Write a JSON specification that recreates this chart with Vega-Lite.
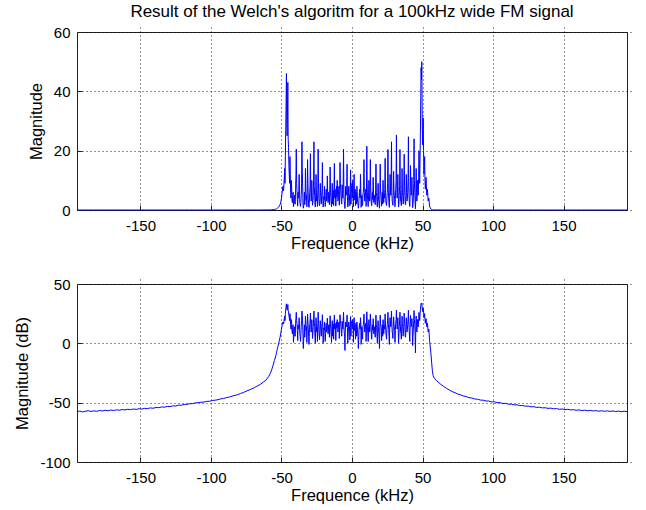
{
"$schema": "https://vega.github.io/schema/vega-lite/v6.json",
"background": "white",
"padding": {"left": 14, "top": 2, "right": 5, "bottom": 5},
"spacing": 24,
"config": {
  "font": "Liberation Sans",
  "view": {"stroke": "#222", "strokeWidth": 1},
  "axis": {"grid": true, "gridColor": "#000", "gridDash": [1, 3], "gridOpacity": 0.85, "domain": false, "ticks": true, "tickSize": 5, "offset": -5, "tickColor": "#222", "labelFontSize": 15, "titleFontSize": 16.5, "labelColor": "#000", "titleColor": "#000", "titleFontWeight": "normal", "labelExpr": "datum.value < 0 ? '-' + abs(datum.value) : '' + datum.value"},
  "axisX": {"labelPadding": 8, "titlePadding": 2},
  "axisY": {"labelPadding": 7, "titlePadding": 9},
  "title": {"fontSize": 17, "fontWeight": "normal", "color": "#000"}
},
"data": {"values": [
{"f":-195,"m":0.0013,"d":-57.5},{"f":-193,"m":0.0014,"d":-57.1},{"f":-191,"m":0.0013,"d":-57.8},{"f":-189,"m":0.0014,"d":-57.2},{"f":-187,"m":0.0014,"d":-56.8},{"f":-185,"m":0.0013,"d":-57.4},{"f":-183,"m":0.0014,"d":-56.9},{"f":-181,"m":0.0014,"d":-57.3},{"f":-179,"m":0.0015,"d":-56.6},{"f":-177,"m":0.0014,"d":-57.0},{"f":-175,"m":0.0015,"d":-56.4},{"f":-173,"m":0.0014,"d":-56.9},{"f":-171,"m":0.0015,"d":-56.2},{"f":-169,"m":0.0015,"d":-56.6},{"f":-167,"m":0.0016,"d":-56.0},{"f":-165,"m":0.0015,"d":-56.4},{"f":-163,"m":0.0016,"d":-55.8},{"f":-161,"m":0.0016,"d":-56.1},{"f":-159,"m":0.0017,"d":-55.6},{"f":-157,"m":0.0016,"d":-55.9},{"f":-155,"m":0.0017,"d":-55.3},{"f":-153,"m":0.0016,"d":-55.7},{"f":-151,"m":0.0018,"d":-55.1},{"f":-149,"m":0.0017,"d":-55.4},{"f":-147,"m":0.0018,"d":-54.8},{"f":-145,"m":0.0018,"d":-55.0},{"f":-143,"m":0.0019,"d":-54.4},{"f":-141,"m":0.0018,"d":-54.7},{"f":-139,"m":0.002,"d":-54.1},{"f":-137,"m":0.002,"d":-54.2},{"f":-135,"m":0.0021,"d":-53.6},{"f":-133,"m":0.002,"d":-53.8},{"f":-131,"m":0.0022,"d":-53.2},{"f":-129,"m":0.0022,"d":-53.3},{"f":-127,"m":0.0023,"d":-52.7},{"f":-125,"m":0.0023,"d":-52.8},{"f":-123,"m":0.0025,"d":-52.1},{"f":-121,"m":0.0025,"d":-52.2},{"f":-119,"m":0.0027,"d":-51.5},{"f":-117,"m":0.0027,"d":-51.4},{"f":-115,"m":0.0029,"d":-50.9},{"f":-113,"m":0.0029,"d":-50.8},{"f":-111,"m":0.0031,"d":-50.2},{"f":-109,"m":0.0032,"d":-50.0},{"f":-107,"m":0.0033,"d":-49.6},{"f":-105,"m":0.0034,"d":-49.5},{"f":-103,"m":0.0036,"d":-48.9},{"f":-101,"m":0.0036,"d":-48.8},{"f":-99,"m":0.0039,"d":-48.2},{"f":-97,"m":0.004,"d":-47.9},{"f":-95,"m":0.0042,"d":-47.5},{"f":-93,"m":0.0046,"d":-46.8},{"f":-91,"m":0.0047,"d":-46.5},{"f":-89,"m":0.0052,"d":-45.7},{"f":-87,"m":0.0054,"d":-45.3},{"f":-85,"m":0.006,"d":-44.5},{"f":-83,"m":0.0064,"d":-43.9},{"f":-81,"m":0.0069,"d":-43.2},{"f":-79,"m":0.0078,"d":-42.2},{"f":-77,"m":0.0084,"d":-41.5},{"f":-75,"m":0.0097,"d":-40.3},{"f":-73,"m":0.011,"d":-39.4},{"f":-71,"m":0.012,"d":-38.3},{"f":-69,"m":0.014,"d":-37.2},{"f":-67,"m":0.016,"d":-35.8},{"f":-65,"m":0.019,"d":-34.6},{"f":-63,"m":0.023,"d":-32.8},{"f":-61,"m":0.028,"d":-31.0},{"f":-60,"m":0.034,"d":-29.4},{"f":-59,"m":0.041,"d":-27.8},{"f":-58,"m":0.053,"d":-25.5},{"f":-57,"m":0.075,"d":-22.5},{"f":-56,"m":0.12,"d":-18.5},{"f":-55,"m":0.19,"d":-14.5},{"f":-54,"m":0.3,"d":-10.5},{"f":-53.5,"m":0.42,"d":-7.5},
{"f":-53,"m":0.56,"d":-5},{"f":-52.5,"m":0.75,"d":-2.5},{"f":-52,"m":1,"d":0},{"f":-51.5,"m":1.35,"d":2.6},{"f":-51,"m":1.8,"d":5.1},{"f":-50.5,"m":2.7,"d":8.6},{"f":-50,"m":4,"d":12},{"f":-49.5,"m":6,"d":15.6},{"f":-49,"m":8,"d":18},{"f":-48.5,"m":6.5,"d":16.3},{"f":-48,"m":11,"d":20.8},{"f":-47.5,"m":9,"d":19.1},{"f":-47,"m":27,"d":28.6},{"f":-46.5,"m":46,"d":33.3},{"f":-46,"m":25,"d":28},{"f":-45.5,"m":43,"d":32.7},{"f":-45,"m":21,"d":26.4},{"f":-44.5,"m":12,"d":21.6},{"f":-44,"m":18,"d":25.1},{"f":-43.5,"m":6,"d":15.6},{"f":-43,"m":10,"d":20},{"f":-42.5,"m":3,"d":9.5},{"f":-42,"m":5,"d":14},{"f":-41.5,"m":1.1,"d":0.8},{"f":-41,"m":4,"d":12},{"f":-40.5,"m":2,"d":6},{"f":-40,"m":7,"d":16.9},{"f":-39.5,"m":20.5,"d":26.2},{"f":-39,"m":6,"d":15.6},{"f":-38.5,"m":1.3,"d":2.3},{"f":-38,"m":4,"d":12},{"f":-37.5,"m":12,"d":21.6},{"f":-37,"m":2.5,"d":8},{"f":-36.5,"m":1.2,"d":1.6},{"f":-36,"m":5,"d":14},{"f":-35.5,"m":23,"d":27.2},{"f":-35,"m":8,"d":18},{"f":-34.5,"m":0.6,"d":-4.4},{"f":-34,"m":3,"d":9.5},{"f":-33.5,"m":1.8,"d":5.1},{"f":-33,"m":14,"d":22.9},{"f":-32.5,"m":3.5,"d":10.9},{"f":-32,"m":1.1,"d":0.8},{"f":-31.5,"m":17,"d":24.6},{"f":-31,"m":4,"d":12},{"f":-30.5,"m":0.9,"d":-0.9},{"f":-30,"m":6,"d":15.6},{"f":-29.5,"m":19,"d":25.6},{"f":-29,"m":3,"d":9.5},{"f":-28.5,"m":10,"d":20},{"f":-28,"m":1.6,"d":4.1},{"f":-27.5,"m":4.5,"d":13.1},{"f":-27,"m":23,"d":27.2},{"f":-26.5,"m":5,"d":14},{"f":-26,"m":1,"d":0},{"f":-25.5,"m":12,"d":21.6},{"f":-25,"m":3,"d":9.5},{"f":-24.5,"m":1.2,"d":1.6},{"f":-24,"m":20.5,"d":26.2},{"f":-23.5,"m":4,"d":12},{"f":-23,"m":1.4,"d":2.9},{"f":-22.5,"m":9,"d":19.1},{"f":-22,"m":3,"d":9.5},{"f":-21.5,"m":5,"d":14},{"f":-21,"m":16,"d":24.1},{"f":-20.5,"m":1,"d":0},{"f":-20,"m":4.5,"d":13.1},{"f":-19.5,"m":8,"d":18},{"f":-19,"m":1.2,"d":1.6},{"f":-18.5,"m":5,"d":14},{"f":-18,"m":3,"d":9.5},{"f":-17.5,"m":11.5,"d":21.2},{"f":-17,"m":2.5,"d":8},{"f":-16.5,"m":6,"d":15.6},{"f":-16,"m":1.8,"d":5.1},{"f":-15.5,"m":14.5,"d":23.2},{"f":-15,"m":4,"d":12},{"f":-14.5,"m":1.1,"d":0.8},{"f":-14,"m":9,"d":19.1},{"f":-13.5,"m":5.5,"d":14.8},{"f":-13,"m":1.5,"d":3.5},{"f":-12.5,"m":15.7,"d":23.9},{"f":-12,"m":7,"d":16.9},{"f":-11.5,"m":1.3,"d":2.3},{"f":-11,"m":8,"d":18},{"f":-10.5,"m":10,"d":20},{"f":-10,"m":3,"d":9.5},{"f":-9.5,"m":6.5,"d":16.3},{"f":-9,"m":1.6,"d":4.1},{"f":-8.5,"m":16,"d":24.1},{"f":-8,"m":7,"d":16.9},{"f":-7.5,"m":2.5,"d":8},{"f":-7,"m":8.5,"d":18.6},{"f":-6.5,"m":4,"d":12},{"f":-6,"m":20.5,"d":26.2},{"f":-5.5,"m":3,"d":9.5},{"f":-5,"m":0.5,"d":-6},{"f":-4.5,"m":8,"d":18},{"f":-4,"m":5,"d":14},{"f":-3.5,"m":15.4,"d":23.8},{"f":-3,"m":1,"d":0},{"f":-2.5,"m":6,"d":15.6},{"f":-2,"m":3.5,"d":10.9},{"f":-1.5,"m":1.4,"d":2.9},{"f":-1,"m":13.5,"d":22.6},{"f":-0.5,"m":6,"d":15.6},{"f":0,"m":9,"d":19.1},{"f":0.5,"m":10,"d":20},{"f":1,"m":1.1,"d":0.8},{"f":1.5,"m":12,"d":21.6},{"f":2,"m":5.5,"d":14.8},{"f":2.5,"m":1.5,"d":3.5},{"f":3,"m":6,"d":15.6},{"f":3.5,"m":8,"d":18},{"f":4,"m":2.5,"d":8},{"f":4.5,"m":0.6,"d":-4.4},{"f":5,"m":4,"d":12},{"f":5.5,"m":7,"d":16.9},{"f":6,"m":12,"d":21.6},{"f":6.5,"m":0.9,"d":-0.9},{"f":7,"m":5,"d":14},{"f":7.5,"m":1.5,"d":3.5},{"f":8,"m":6,"d":15.6},{"f":8.5,"m":17,"d":24.6},{"f":9,"m":3,"d":9.5},{"f":9.5,"m":5,"d":14},{"f":10,"m":1.2,"d":1.6},{"f":10.5,"m":21.5,"d":26.6},{"f":11,"m":4,"d":12},{"f":11.5,"m":1.2,"d":1.6},{"f":12,"m":10,"d":20},{"f":12.5,"m":3,"d":9.5},{"f":13,"m":17,"d":24.6},{"f":13.5,"m":5,"d":14},{"f":14,"m":1.5,"d":3.5},{"f":14.5,"m":6,"d":15.6},{"f":15,"m":11,"d":20.8},{"f":15.5,"m":2.5,"d":8},{"f":16,"m":4,"d":12},{"f":16.5,"m":1.8,"d":5.1},{"f":17,"m":15.5,"d":23.8},{"f":17.5,"m":4.5,"d":13.1},{"f":18,"m":1,"d":0},{"f":18.5,"m":9,"d":19.1},{"f":19,"m":3,"d":9.5},{"f":19.5,"m":0.6,"d":-4.4},{"f":20,"m":15.5,"d":23.8},{"f":20.5,"m":5,"d":14},{"f":21,"m":1.3,"d":2.3},{"f":21.5,"m":6,"d":15.6},{"f":22,"m":10,"d":20},{"f":22.5,"m":2.5,"d":8},{"f":23,"m":4,"d":12},{"f":23.5,"m":17.4,"d":24.8},{"f":24,"m":3,"d":9.5},{"f":24.5,"m":1.5,"d":3.5},{"f":25,"m":6,"d":15.6},{"f":25.5,"m":20.4,"d":26.2},{"f":26,"m":4,"d":12},{"f":26.5,"m":0.9,"d":-0.9},{"f":27,"m":12,"d":21.6},{"f":27.5,"m":5,"d":14},{"f":28,"m":23,"d":27.2},{"f":28.5,"m":3,"d":9.5},{"f":29,"m":1.6,"d":4.1},{"f":29.5,"m":13,"d":22.3},{"f":30,"m":5,"d":14},{"f":30.5,"m":1.1,"d":0.8},{"f":31,"m":7,"d":16.9},{"f":31.5,"m":25.3,"d":28.1},{"f":32,"m":4,"d":12},{"f":32.5,"m":12,"d":21.6},{"f":33,"m":1,"d":0},{"f":33.5,"m":5,"d":14},{"f":34,"m":20.4,"d":26.2},{"f":34.5,"m":3,"d":9.5},{"f":35,"m":1.5,"d":3.5},{"f":35.5,"m":14,"d":22.9},{"f":36,"m":4.5,"d":13.1},{"f":36.5,"m":2.5,"d":8},{"f":37,"m":18.8,"d":25.5},{"f":37.5,"m":5,"d":14},{"f":38,"m":1.8,"d":5.1},{"f":38.5,"m":12,"d":21.6},{"f":39,"m":3,"d":9.5},{"f":39.5,"m":6,"d":15.6},{"f":40,"m":24.7,"d":27.9},{"f":40.5,"m":4,"d":12},{"f":41,"m":1.2,"d":1.6},{"f":41.5,"m":15,"d":23.5},{"f":42,"m":5,"d":14},{"f":42.5,"m":11,"d":20.8},{"f":43,"m":0.8,"d":-1.9},{"f":43.5,"m":4,"d":12},{"f":44,"m":24,"d":27.6},{"f":44.5,"m":6,"d":15.6},{"f":45,"m":0.4,"d":-8},{"f":45.5,"m":14,"d":22.9},{"f":46,"m":3,"d":9.5},{"f":46.5,"m":10,"d":20},{"f":47,"m":5,"d":14},{"f":47.5,"m":20,"d":26},{"f":48,"m":9,"d":19.1},{"f":48.5,"m":26,"d":28.3},{"f":49,"m":48,"d":33.6},{"f":49.5,"m":50,"d":34},{"f":50,"m":22,"d":26.8},{"f":50.5,"m":31,"d":29.8},{"f":51,"m":12,"d":21.6},{"f":51.5,"m":18,"d":25.1},{"f":52,"m":7,"d":16.9},{"f":52.5,"m":11,"d":20.8},{"f":53,"m":5,"d":14},{"f":53.5,"m":7,"d":16.9},{"f":54,"m":3,"d":9.5},{"f":54.5,"m":4,"d":12},{"f":55,"m":1.3,"d":2.3},{"f":55.5,"m":0.7,"d":-3.1},{"f":56,"m":0.35,"d":-9.1},{"f":56.5,"m":0.15,"d":-16.5},{"f":57,"m":0.07,"d":-23.1},{"f":57.5,"m":0.045,"d":-26.9},
{"f":58,"m":0.038,"d":-28.5},{"f":59,"m":0.031,"d":-30.2},{"f":60,"m":0.026,"d":-31.6},{"f":61,"m":0.024,"d":-32.5},{"f":63,"m":0.019,"d":-34.6},{"f":65,"m":0.015,"d":-36.3},{"f":67,"m":0.013,"d":-37.9},{"f":69,"m":0.011,"d":-39.3},{"f":71,"m":0.0093,"d":-40.6},{"f":73,"m":0.0083,"d":-41.6},{"f":75,"m":0.0073,"d":-42.7},{"f":77,"m":0.0068,"d":-43.4},{"f":79,"m":0.006,"d":-44.4},{"f":81,"m":0.0057,"d":-44.9},{"f":83,"m":0.0051,"d":-45.8},{"f":85,"m":0.005,"d":-46.1},{"f":87,"m":0.0045,"d":-46.9},{"f":89,"m":0.0044,"d":-47.1},{"f":91,"m":0.0041,"d":-47.8},{"f":93,"m":0.004,"d":-47.9},{"f":95,"m":0.0037,"d":-48.6},{"f":97,"m":0.0037,"d":-48.6},{"f":99,"m":0.0034,"d":-49.3},{"f":101,"m":0.0034,"d":-49.3},{"f":103,"m":0.0032,"d":-50.0},{"f":105,"m":0.0032,"d":-50.0},{"f":107,"m":0.0029,"d":-50.7},{"f":109,"m":0.003,"d":-50.6},{"f":111,"m":0.0027,"d":-51.3},{"f":113,"m":0.0028,"d":-51.2},{"f":115,"m":0.0025,"d":-51.9},{"f":117,"m":0.0026,"d":-51.8},{"f":119,"m":0.0024,"d":-52.5},{"f":121,"m":0.0024,"d":-52.4},{"f":123,"m":0.0022,"d":-53.0},{"f":125,"m":0.0023,"d":-52.9},{"f":127,"m":0.0021,"d":-53.5},{"f":129,"m":0.0021,"d":-53.4},{"f":131,"m":0.002,"d":-54.0},{"f":133,"m":0.002,"d":-53.8},{"f":135,"m":0.0019,"d":-54.4},{"f":137,"m":0.0019,"d":-54.3},{"f":139,"m":0.0018,"d":-54.8},{"f":141,"m":0.0019,"d":-54.6},{"f":143,"m":0.0017,"d":-55.2},{"f":145,"m":0.0018,"d":-55.0},{"f":147,"m":0.0017,"d":-55.6},{"f":149,"m":0.0017,"d":-55.3},{"f":151,"m":0.0016,"d":-55.9},{"f":153,"m":0.0017,"d":-55.6},{"f":155,"m":0.0016,"d":-56.1},{"f":157,"m":0.0016,"d":-55.9},{"f":159,"m":0.0015,"d":-56.4},{"f":161,"m":0.0016,"d":-56.1},{"f":163,"m":0.0015,"d":-56.7},{"f":165,"m":0.0015,"d":-56.3},{"f":167,"m":0.0014,"d":-56.8},{"f":169,"m":0.0015,"d":-56.5},{"f":171,"m":0.0014,"d":-57.0},{"f":173,"m":0.0015,"d":-56.7},{"f":175,"m":0.0014,"d":-57.2},{"f":177,"m":0.0014,"d":-56.8},{"f":179,"m":0.0014,"d":-57.3},{"f":181,"m":0.0014,"d":-56.9},{"f":183,"m":0.0013,"d":-57.4},{"f":185,"m":0.0014,"d":-57.0},{"f":187,"m":0.0013,"d":-57.5},{"f":189,"m":0.0014,"d":-57.1},{"f":191,"m":0.0013,"d":-57.6},{"f":193,"m":0.0014,"d":-57.2},{"f":195,"m":0.0013,"d":-57.5},
{"f":-47.75,"m":14,"d":22.9},{"f":-47.25,"m":18,"d":25.1},{"f":-46.75,"m":35,"d":30.9},{"f":-46.25,"m":30,"d":29.5},{"f":-45.75,"m":33,"d":30.4},{"f":-45.25,"m":24,"d":27.6},{"f":-44.75,"m":15,"d":23.5},{"f":-44.25,"m":9,"d":19.1},{"f":-43.75,"m":12,"d":21.6},{"f":-43.25,"m":4,"d":12},{"f":-42.75,"m":7,"d":16.9},{"f":-42.25,"m":2.5,"d":8},{"f":-41.75,"m":6,"d":15.6},{"f":-41.25,"m":2,"d":6},{"f":-40.75,"m":5,"d":14},{"f":-40.25,"m":2,"d":6},{"f":-39.75,"m":12,"d":21.6},{"f":-39.25,"m":9,"d":19.1},{"f":-38.75,"m":3.5,"d":10.9},{"f":-38.25,"m":6,"d":15.6},{"f":-37.75,"m":5,"d":14},{"f":-37.25,"m":7,"d":16.9},{"f":-36.75,"m":2,"d":6},{"f":-36.25,"m":2.5,"d":8},{"f":-35.75,"m":9,"d":19.1},{"f":-35.25,"m":13,"d":22.3},{"f":-34.75,"m":2,"d":6},{"f":-34.25,"m":1.5,"d":3.5},{"f":-33.75,"m":6,"d":15.6},{"f":-33.25,"m":4,"d":12},{"f":-32.75,"m":7,"d":16.9},{"f":-32.25,"m":5,"d":14},{"f":-31.75,"m":6,"d":15.6},{"f":-31.25,"m":9,"d":19.1},{"f":-30.75,"m":2,"d":6},{"f":-30.25,"m":2.5,"d":8},{"f":-29.75,"m":8,"d":18},{"f":-29.25,"m":6,"d":15.6},{"f":-28.75,"m":4,"d":12},{"f":-28.25,"m":5,"d":14},{"f":-27.75,"m":2.5,"d":8},{"f":-27.25,"m":10,"d":20},{"f":-26.75,"m":8,"d":18},{"f":-26.25,"m":2,"d":6},{"f":-25.75,"m":5,"d":14},{"f":-25.25,"m":6,"d":15.6},{"f":-24.75,"m":4.5,"d":13.1},{"f":-24.25,"m":7,"d":16.9},{"f":-23.75,"m":9,"d":19.1},{"f":-23.25,"m":2,"d":6},{"f":-22.75,"m":4,"d":12},{"f":-22.25,"m":6,"d":15.6},{"f":-21.75,"m":2,"d":6},{"f":-21.25,"m":7,"d":16.9},{"f":-20.75,"m":5,"d":14},{"f":-20.25,"m":1.5,"d":3.5},{"f":-19.75,"m":3.5,"d":10.9},{"f":-19.25,"m":4,"d":12},{"f":-18.75,"m":2.5,"d":8},{"f":-18.25,"m":7,"d":16.9},{"f":-17.75,"m":4,"d":12},{"f":-17.25,"m":6,"d":15.6},{"f":-16.75,"m":3.5,"d":10.9},{"f":-16.25,"m":4.5,"d":13.1},{"f":-15.75,"m":7,"d":16.9},{"f":-15.25,"m":6,"d":15.6},{"f":-14.75,"m":2,"d":6},{"f":-14.25,"m":5,"d":14},{"f":-13.75,"m":2,"d":6},{"f":-13.25,"m":6.5,"d":16.3},{"f":-12.75,"m":8,"d":18},{"f":-12.25,"m":4,"d":12},{"f":-11.75,"m":5.5,"d":14.8},{"f":-11.25,"m":3.5,"d":10.9},{"f":-10.75,"m":4.5,"d":13.1},{"f":-10.25,"m":7.5,"d":17.5},{"f":-9.75,"m":4,"d":12},{"f":-9.25,"m":8,"d":18},{"f":-8.75,"m":5,"d":14},{"f":-8.25,"m":9,"d":19.1},{"f":-7.75,"m":4.5,"d":13.1},{"f":-7.25,"m":2,"d":6},{"f":-6.75,"m":6,"d":15.6},{"f":-6.25,"m":9,"d":19.1},{"f":-5.75,"m":5.5,"d":14.8},{"f":-5.25,"m":2,"d":6},{"f":-4.75,"m":3,"d":9.5},{"f":-4.25,"m":6,"d":15.6},{"f":-3.75,"m":7,"d":16.9},{"f":-3.25,"m":4.5,"d":13.1},{"f":-2.75,"m":2,"d":6},{"f":-2.25,"m":8,"d":18},{"f":-1.75,"m":5,"d":14},{"f":-1.25,"m":6.5,"d":16.3},{"f":-0.75,"m":2,"d":6},{"f":-0.25,"m":7,"d":16.9},{"f":0.25,"m":4,"d":12},{"f":0.75,"m":6.5,"d":16.3},{"f":1.25,"m":5,"d":14},{"f":1.75,"m":3.5,"d":10.9},{"f":2.25,"m":7,"d":16.9},{"f":2.75,"m":4,"d":12},{"f":3.25,"m":2,"d":6},{"f":3.75,"m":5,"d":14},{"f":4.25,"m":2,"d":6},{"f":4.75,"m":1.5,"d":3.5},{"f":5.25,"m":6,"d":15.6},{"f":5.75,"m":4,"d":12},{"f":6.25,"m":7,"d":16.9},{"f":6.75,"m":4.5,"d":13.1},{"f":7.25,"m":2,"d":6},{"f":7.75,"m":5,"d":14},{"f":8.25,"m":8,"d":18},{"f":8.75,"m":6,"d":15.6},{"f":9.25,"m":4,"d":12},{"f":9.75,"m":7,"d":16.9},{"f":10.25,"m":6,"d":15.6},{"f":10.75,"m":9,"d":19.1},{"f":11.25,"m":2.5,"d":8},{"f":11.75,"m":5,"d":14},{"f":12.25,"m":6,"d":15.6},{"f":12.75,"m":4,"d":12},{"f":13.25,"m":8,"d":18},{"f":13.75,"m":2,"d":6},{"f":14.25,"m":4,"d":12},{"f":14.75,"m":3.5,"d":10.9},{"f":15.25,"m":6,"d":15.6},{"f":15.75,"m":5,"d":14},{"f":16.25,"m":2.5,"d":8},{"f":16.75,"m":7,"d":16.9},{"f":17.25,"m":6,"d":15.6},{"f":17.75,"m":2,"d":6},{"f":18.25,"m":5,"d":14},{"f":18.75,"m":4,"d":12},{"f":19.25,"m":1.5,"d":3.5},{"f":19.75,"m":5,"d":14},{"f":20.25,"m":7,"d":16.9},{"f":20.75,"m":3.5,"d":10.9},{"f":21.25,"m":4,"d":12},{"f":21.75,"m":2,"d":6},{"f":22.25,"m":6,"d":15.6},{"f":22.75,"m":5,"d":14},{"f":23.25,"m":7,"d":16.9},{"f":23.75,"m":6,"d":15.6},{"f":24.25,"m":2,"d":6},{"f":24.75,"m":4,"d":12},{"f":25.25,"m":9,"d":19.1},{"f":25.75,"m":7,"d":16.9},{"f":26.25,"m":2,"d":6},{"f":26.75,"m":6,"d":15.6},{"f":27.25,"m":8,"d":18},{"f":27.75,"m":9,"d":19.1},{"f":28.25,"m":6,"d":15.6},{"f":28.75,"m":2.5,"d":8},{"f":29.25,"m":5,"d":14},{"f":29.75,"m":7,"d":16.9},{"f":30.25,"m":3.5,"d":10.9},{"f":30.75,"m":4,"d":12},{"f":31.25,"m":10,"d":20},{"f":31.75,"m":8,"d":18},{"f":32.25,"m":6,"d":15.6},{"f":32.75,"m":5,"d":14},{"f":33.25,"m":2,"d":6},{"f":33.75,"m":8,"d":18},{"f":34.25,"m":7,"d":16.9},{"f":34.75,"m":2.5,"d":8},{"f":35.25,"m":5,"d":14},{"f":35.75,"m":6,"d":15.6},{"f":36.25,"m":2,"d":6},{"f":36.75,"m":7,"d":16.9},{"f":37.25,"m":8,"d":18},{"f":37.75,"m":2,"d":6},{"f":38.25,"m":5,"d":14},{"f":38.75,"m":6,"d":15.6},{"f":39.25,"m":4,"d":12},{"f":39.75,"m":10,"d":20},{"f":40.25,"m":8,"d":18},{"f":40.75,"m":2,"d":6},{"f":41.25,"m":6,"d":15.6},{"f":41.75,"m":7,"d":16.9},{"f":42.25,"m":6,"d":15.6},{"f":42.75,"m":4,"d":12},{"f":43.25,"m":2,"d":6},{"f":43.75,"m":9,"d":19.1},{"f":44.25,"m":10,"d":20},{"f":44.75,"m":2.5,"d":8},{"f":45.25,"m":5,"d":14},{"f":45.75,"m":6,"d":15.6},{"f":46.25,"m":5,"d":14},{"f":46.75,"m":7,"d":16.9},{"f":47.25,"m":11,"d":20.8},{"f":47.75,"m":14,"d":22.9},{"f":48.25,"m":17,"d":24.6},{"f":48.75,"m":38,"d":31.6},{"f":49.25,"m":44,"d":32.9},{"f":49.75,"m":34,"d":30.6},{"f":50.25,"m":27,"d":28.6},{"f":50.75,"m":20,"d":26},{"f":51.25,"m":15,"d":23.5},{"f":51.75,"m":10,"d":20}
]},
"vconcat": [
  {
    "width": 550, "height": 178,
    "title": {"text": "Result of the Welch's algoritm for a 100kHz wide FM signal", "frame": "group", "anchor": "middle", "offset": 4},
    "mark": {"type": "line", "color": "#0000ff", "strokeWidth": 1},
    "encoding": {
      "x": {"field": "f", "type": "quantitative", "scale": {"domain": [-195, 195], "nice": false, "zero": false}, "axis": {"values": [-150, -100, -50, 0, 50, 100, 150], "title": "Frequence (kHz)"}},
      "y": {"field": "m", "type": "quantitative", "scale": {"domain": [0, 60], "nice": false}, "axis": {"values": [0, 20, 40, 60], "title": "Magnitude"}}
    }
  },
  {
    "width": 550, "height": 178,
    "mark": {"type": "line", "color": "#0000ff", "strokeWidth": 1},
    "encoding": {
      "x": {"field": "f", "type": "quantitative", "scale": {"domain": [-195, 195], "nice": false, "zero": false}, "axis": {"values": [-150, -100, -50, 0, 50, 100, 150], "title": "Frequence (kHz)"}},
      "y": {"field": "d", "type": "quantitative", "scale": {"domain": [-100, 50], "nice": false}, "axis": {"values": [-100, -50, 0, 50], "title": "Magnitude (dB)"}}
    }
  }
]
}
